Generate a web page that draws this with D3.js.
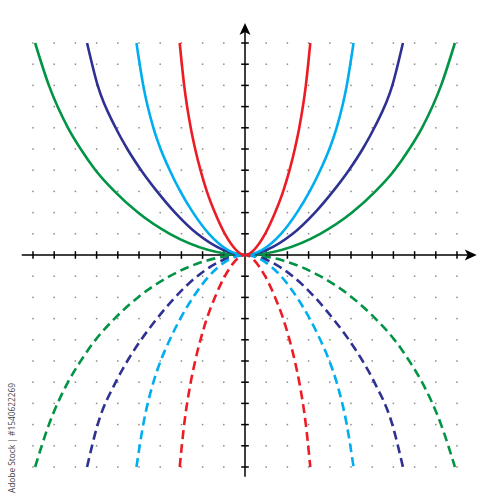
<!DOCTYPE html>
<html><head><meta charset="utf-8">
<script src="https://cdn.jsdelivr.net/npm/d3@7"></script>
<style>html,body{margin:0;padding:0;background:#fff;}svg{display:block;}</style>
</head><body>
<script>
// y levels (units) at which curve half-widths were read
const yLevels = [0, 1, 2, 3, 4, 5, 6, 8, 10];
// half-width |x| of each curve at those y levels
const greenX = [0, 3.55, 5.05, 6.15, 7.05, 7.75, 8.35, 9.25, 9.9];
const navyX  = [0, 2.25, 3.3, 4.15, 4.9, 5.55, 6.1, 6.95, 7.45];
const cyanX  = [0, 1.7, 2.45, 3.05, 3.55, 3.98, 4.32, 4.8, 5.12];
const redX   = [0, 0.95, 1.42, 1.8, 2.1, 2.35, 2.56, 2.87, 3.08];
const seriesNames = ["green", "navy", "cyan", "red"];
const seriesColors = ["#009444", "#2e3192", "#00aeef", "#ed1c24"];
const tickValues = d3.range(-10, 11).filter(d => d !== 0);
const gridValues = d3.range(-10, 11);

const W = 500, H = 500;
const svg = d3.select("body").append("svg").attr("width", W).attr("height", H);
const x = d3.scaleLinear().domain([-10, 10]).range([33, 457]);
const y = d3.scaleLinear().domain([-10, 10]).range([467, 43]);

// dot grid
const dots = [];
gridValues.forEach(gx => gridValues.forEach(gy => { if (gx !== 0 && gy !== 0) dots.push([gx, gy]); }));
svg.append("g").selectAll("rect").data(dots).join("rect")
  .attr("x", d => x(d[0]) - 0.75).attr("y", d => y(d[1]) - 0.75)
  .attr("width", 1.5).attr("height", 1.5).attr("fill", "#8a8a8a");

// watermark label
svg.append("text")
  .attr("transform", `translate(15,493) rotate(-90)`)
  .attr("font-family", "'Open Sans', 'DejaVu Sans', sans-serif")
  .attr("font-size", 9.5).attr("fill", "#444")
  .attr("textLength", 110).attr("lengthAdjust", "spacingAndGlyphs")
  .text("Adobe Stock | #1540622269");

// axes
const ax = svg.append("g").attr("stroke", "#000").attr("stroke-width", 1.5);
ax.append("line").attr("x1", x(-10.53)).attr("x2", x(10.6)).attr("y1", y(0)).attr("y2", y(0));
ax.append("line").attr("x1", x(0)).attr("x2", x(0)).attr("y1", y(10.6)).attr("y2", y(-10.46));
ax.selectAll(".tx").data(tickValues).join("line")
  .attr("x1", d => x(d)).attr("x2", d => x(d)).attr("y1", y(0) - 3.8).attr("y2", y(0) + 3.8);
ax.selectAll(".ty").data(tickValues).join("line")
  .attr("y1", d => y(d)).attr("y2", d => y(d)).attr("x1", x(0) - 3.8).attr("x2", x(0) + 3.8);
// arrowheads
const tipX = x(10.93), cy0 = y(0);
svg.append("path").attr("fill", "#000")
  .attr("d", `M${tipX},${cy0} L${tipX - 12},${cy0 - 5.5} L${tipX - 9},${cy0} L${tipX - 12},${cy0 + 5.5} Z`);
const tipY = y(10.94), cx0 = x(0);
svg.append("path").attr("fill", "#000")
  .attr("d", `M${cx0},${tipY} L${cx0 - 5.5},${tipY + 12} L${cx0},${tipY + 9} L${cx0 + 5.5},${tipY + 12} Z`);

// curves: one path per curve, ordered by x
const allX = [greenX, navyX, cyanX, redX];
const line = d3.line().x(d => x(d[0])).y(d => y(d[1])).curve(d3.curveMonotoneX);
allX.forEach((xs, i) => {
  [1, -1].forEach(sy => {
    const right = yLevels.map((lv, k) => [xs[k], sy * lv]);
    const left = right.slice(1).map(d => [-d[0], d[1]]).reverse();
    const pts = left.concat(right);
    svg.append("path").datum(pts)
      .attr("d", line).attr("fill", "none")
      .attr("stroke", seriesColors[i]).attr("stroke-width", 2.6)
      .attr("stroke-dasharray", sy < 0 ? "9,5" : null)
      .attr("class", seriesNames[i]);
  });
});
</script>
</body></html>
